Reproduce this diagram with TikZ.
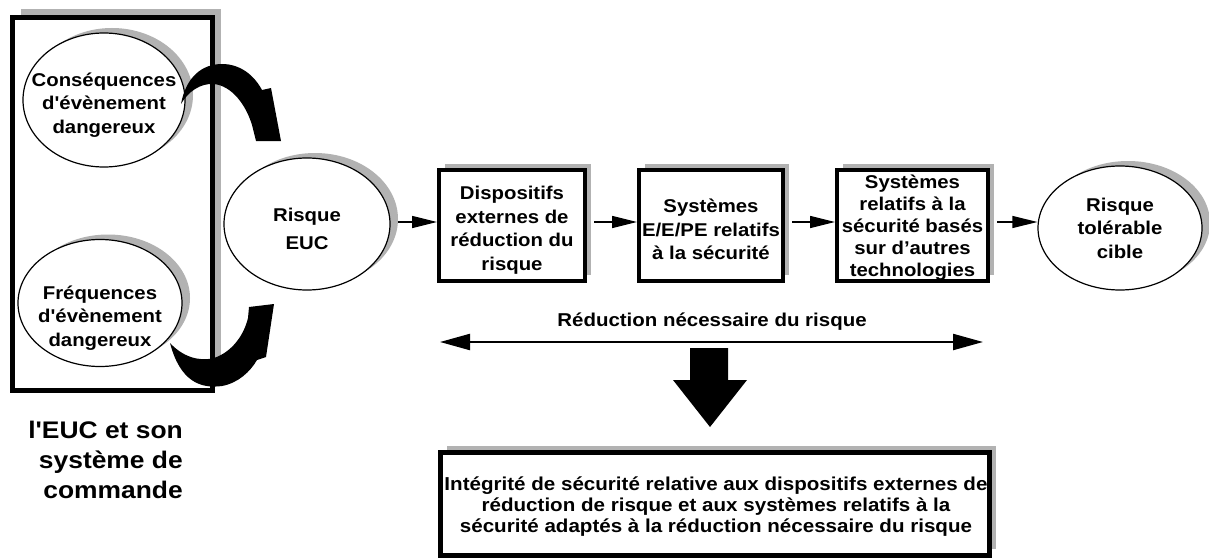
\documentclass[tikz,border=0pt]{standalone}
\usepackage{fontspec}
\setmainfont{Liberation Sans}[FakeStretch=1.1, Ligatures=TeXOff]
\usetikzlibrary{arrows.meta,shapes.geometric,shadows}
\tikzset{
  shd/.style={drop shadow={shadow xshift=6pt, shadow yshift=6pt, fill=black!30, opacity=1}},
  boxtxt/.style={font=\fontsize{18.5pt}{23.5pt}\selectfont\bfseries},
  txt/.style={boxtxt, align=center, inner sep=0pt},
  stepbox/.style={draw, line width=4pt, fill=white, inner sep=0pt, shd},
  oval/.style={ellipse, draw, line width=1.2pt, fill=white, inner sep=0pt,
    drop shadow={shadow xshift=8pt, shadow yshift=5pt, fill=black!30, opacity=1}},
  conn/.style={line width=1.3pt, shorten <=7pt, -{Triangle[length=25pt,width=12pt]}},
  bigtip/.tip={Triangle[length=30pt,width=16pt]}
}
\begin{document}
\begin{tikzpicture}[x=1pt,y=-1pt]
\useasboundingbox (0,0) rectangle (1209,559);
\fill[white] (0,0) rectangle (1209,559);

% left frame
\node[draw, line width=5pt, fill=white, inner sep=0pt, minimum width=200pt, minimum height=373pt,
  drop shadow={shadow xshift=8pt, shadow yshift=8pt, fill=black!30, opacity=1}] (euc) at (112.5,204) {};

\node[oval, minimum width=162pt, minimum height=134pt] (cons) at (104,100) {};
\node[txt] (constxt) at (104,105) {Conséquences\\d'évènement\\dangereux};
\node[oval, minimum width=164pt, minimum height=127pt] (freq) at (100,303) {};
\node[txt] (freqtxt) at (100,318) {Fréquences\\d'évènement\\dangereux};

\node[oval, minimum width=166pt, minimum height=132pt] (eucr) at (307,224) {};
\node[txt, font=\fontsize{18.5pt}{28pt}\selectfont\bfseries] (eucrtxt) at (307,229) {Risque\\EUC};

% curved arrows
\fill (181,104) .. controls (186,77) and (202,64) .. (222,64)
  .. controls (240,64) and (254,75) .. (262,90) -- (271,88) -- (281,141) -- (256,141) -- (252,125)
  .. controls (246,105) and (232,86) .. (214,84) .. controls (200,83) and (188,92) .. (181,104) -- cycle;
\fill (170,343) .. controls (180,381) and (200,389) .. (222,386)
  .. controls (238,383) and (250,372) .. (257,360) -- (266,357) -- (274,304) -- (249,307) -- (248,318)
  .. controls (244,335) and (232,352) .. (214,358) .. controls (198,362) and (182,356) .. (170,343) -- cycle;

% boxes
\node[stepbox, minimum width=146pt, minimum height=111pt] (b1) at (512,225.5) {};
\node[txt] (b1txt) at (512,230) {Dispositifs\\externes de\\réduction du\\risque};
\node[stepbox, minimum width=144pt, minimum height=111pt] (b2) at (711,225.5) {};
\node[txt] (b2txt) at (711,229.5) {Systèmes\\E/E/PE relatifs\\à la sécurité};
\node[stepbox, minimum width=151pt, minimum height=111pt] (b3) at (912.5,225.5) {};
\node[txt, font=\fontsize{18.5pt}{22pt}\selectfont\bfseries] (b3txt) at (912.5,228)
  {Systèmes\\relatifs à la\\sécurité basés\\sur d’autres\\technologies};
\node[oval, minimum width=164pt, minimum height=124pt] (tol) at (1120,228) {};
\node[txt] (toltxt) at (1120,228) {Risque\\tolérable\\cible};

\coordinate (lvl) at (0,222);
\draw[conn] (eucr.east |- lvl) -- (b1.west |- lvl);
\draw[conn] (b1.east |- lvl) -- (b2.west |- lvl);
\draw[conn] (b2.east |- lvl) -- (b3.west |- lvl);
\draw[conn] (b3.east |- lvl) -- (tol.west |- lvl);

% required risk reduction
\node[font=\fontsize{18.6pt}{22pt}\selectfont\bfseries, inner sep=0pt] (redlabel) at (712,322) {Réduction nécessaire du risque};
\coordinate (rl) at (440,342);
\coordinate (rr) at (983,342);
\draw[line width=2.2pt, bigtip-bigtip] (rl) -- (rr);

% big down arrow
\fill (690,348) -- (728,348) -- (728,380) -- (747,380) -- (710,427) -- (673,380) -- (690,380) -- cycle;

% bottom box
\node[draw, line width=5pt, fill=white, inner sep=0pt, minimum width=549pt, minimum height=103pt,
  drop shadow={shadow xshift=6pt, shadow yshift=7pt, fill=black!30, opacity=1}] (integ) at (715,504) {};
\node[txt, font=\fontsize{18.7pt}{21pt}\selectfont\bfseries] (integtxt) at (716,507)
  {Intégrité de sécurité relative aux dispositifs externes de\\réduction de risque et aux systèmes relatifs à la\\sécurité adaptés à la réduction nécessaire du risque};

% label
\node[font=\fontsize{24pt}{30pt}\selectfont\bfseries, align=right, inner sep=0pt, anchor=east] (label) at (183,460)
  {l'EUC et son\\système de\\commande};
\end{tikzpicture}
\end{document}
